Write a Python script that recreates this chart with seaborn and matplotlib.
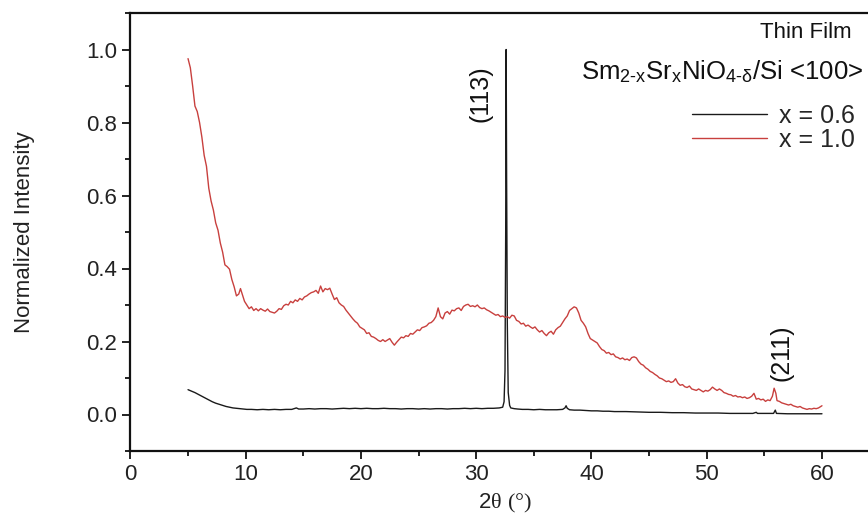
import numpy as np
import pandas as pd
import matplotlib
matplotlib.use("Agg")
import matplotlib.pyplot as plt
from matplotlib.ticker import MultipleLocator, FormatStrFormatter
import seaborn as sns

# ---- XRD scan, x = 1.0 film (2-theta in degrees, normalized intensity) ----
two_theta_x10 = [
    5.0, 5.2, 5.4, 5.6, 5.8, 6.0, 6.2, 6.4, 6.6, 6.8, 7.0, 7.2, 7.4, 7.6, 7.8,
    8.0, 8.2, 8.4, 8.6, 8.8, 9.0, 9.2, 9.4, 9.55, 9.7, 9.9, 10.1, 10.3, 10.5,
    10.7, 10.9, 11.1, 11.3, 11.5, 11.7, 11.9, 12.1, 12.3, 12.5, 12.7, 12.9,
    13.1, 13.3, 13.5, 13.7, 13.9, 14.1, 14.3, 14.5, 14.7, 14.9, 15.1, 15.3,
    15.5, 15.7, 15.9, 16.1, 16.3, 16.5, 16.7, 16.9, 17.1, 17.3, 17.5, 17.7,
    17.9, 18.1, 18.3, 18.5, 18.7, 18.9, 19.1, 19.3, 19.5, 19.7, 19.9, 20.1,
    20.3, 20.5, 20.7, 20.9, 21.1, 21.3, 21.5, 21.7, 21.9, 22.1, 22.3, 22.5,
    22.7, 22.9, 23.1, 23.3, 23.5, 23.7, 23.9, 24.1, 24.3, 24.5, 24.7, 24.9,
    25.1, 25.3, 25.5, 25.7, 25.9, 26.1, 26.3, 26.5, 26.7, 26.9, 27.1, 27.3,
    27.5, 27.7, 27.9, 28.1, 28.3, 28.5, 28.7, 28.9, 29.1, 29.3, 29.5, 29.7,
    29.9, 30.1, 30.3, 30.5, 30.7, 30.9, 31.1, 31.3, 31.5, 31.7, 31.9, 32.1,
    32.3, 32.5, 32.7, 32.9, 33.1, 33.3, 33.5, 33.7, 33.9, 34.1, 34.3, 34.5,
    34.7, 34.9, 35.1, 35.3, 35.5, 35.7, 35.9, 36.1, 36.3, 36.5, 36.7, 36.9,
    37.1, 37.3, 37.5, 37.7, 37.9, 38.1, 38.3, 38.5, 38.7, 38.9, 39.1, 39.3,
    39.5, 39.7, 39.9, 40.1, 40.3, 40.5, 40.7, 40.9, 41.1, 41.3, 41.5, 41.7,
    41.9, 42.1, 42.3, 42.5, 42.7, 42.9, 43.1, 43.3, 43.5, 43.7, 43.9, 44.1,
    44.3, 44.5, 44.7, 44.9, 45.1, 45.3, 45.5, 45.7, 45.9, 46.1, 46.3, 46.5,
    46.7, 46.9, 47.1, 47.3, 47.5, 47.7, 47.9, 48.1, 48.3, 48.5, 48.7, 48.9,
    49.1, 49.3, 49.5, 49.7, 49.9, 50.1, 50.3, 50.5, 50.7, 50.9, 51.1, 51.3,
    51.5, 51.7, 51.9, 52.1, 52.3, 52.5, 52.7, 52.9, 53.1, 53.3, 53.5, 53.7,
    53.9, 54.1, 54.3, 54.5, 54.7, 54.9, 55.1, 55.3, 55.5, 55.7, 55.85, 56.0,
    56.1, 56.3, 56.5, 56.7, 56.9, 57.1, 57.3, 57.5, 57.7, 57.9, 58.1, 58.3,
    58.5, 58.7, 58.9, 59.1, 59.3, 59.5, 59.7, 59.9, 60.0,
]
intensity_x10 = [
    0.975, 0.950, 0.900, 0.845, 0.830, 0.800, 0.760, 0.710, 0.680, 0.620,
    0.585, 0.560, 0.525, 0.505, 0.470, 0.445, 0.410, 0.405, 0.398, 0.370,
    0.350, 0.325, 0.330, 0.345, 0.330, 0.310, 0.300, 0.290, 0.295, 0.285,
    0.290, 0.284, 0.290, 0.286, 0.283, 0.289, 0.282, 0.280, 0.278, 0.283,
    0.290, 0.288, 0.298, 0.302, 0.300, 0.310, 0.306, 0.314, 0.310, 0.318,
    0.314, 0.322, 0.325, 0.330, 0.334, 0.336, 0.340, 0.332, 0.352, 0.336,
    0.345, 0.342, 0.346, 0.330, 0.315, 0.320, 0.306, 0.300, 0.296, 0.286,
    0.278, 0.270, 0.262, 0.255, 0.250, 0.240, 0.236, 0.232, 0.222, 0.224,
    0.214, 0.212, 0.208, 0.203, 0.200, 0.205, 0.200, 0.204, 0.208, 0.198,
    0.190, 0.198, 0.205, 0.212, 0.210, 0.216, 0.214, 0.222, 0.220, 0.226,
    0.232, 0.230, 0.238, 0.240, 0.243, 0.250, 0.252, 0.258, 0.268, 0.292,
    0.268, 0.262, 0.278, 0.282, 0.275, 0.286, 0.284, 0.290, 0.292, 0.285,
    0.296, 0.300, 0.302, 0.296, 0.298, 0.295, 0.300, 0.293, 0.290, 0.292,
    0.287, 0.284, 0.280, 0.276, 0.272, 0.274, 0.268, 0.270, 0.266, 0.268,
    0.264, 0.272, 0.270, 0.258, 0.255, 0.248, 0.250, 0.242, 0.245, 0.240,
    0.236, 0.240, 0.232, 0.226, 0.230, 0.222, 0.216, 0.224, 0.228, 0.220,
    0.232, 0.238, 0.242, 0.252, 0.262, 0.270, 0.285, 0.290, 0.295, 0.292,
    0.278, 0.258, 0.250, 0.240, 0.222, 0.208, 0.204, 0.200, 0.196, 0.186,
    0.178, 0.175, 0.168, 0.170, 0.164, 0.166, 0.158, 0.156, 0.152, 0.155,
    0.150, 0.152, 0.148, 0.156, 0.158, 0.155, 0.145, 0.138, 0.135, 0.128,
    0.124, 0.118, 0.115, 0.110, 0.106, 0.100, 0.098, 0.094, 0.090, 0.092,
    0.088, 0.090, 0.098, 0.086, 0.080, 0.082, 0.076, 0.074, 0.078, 0.070,
    0.068, 0.066, 0.070, 0.066, 0.062, 0.066, 0.064, 0.068, 0.075, 0.070,
    0.066, 0.070, 0.066, 0.060, 0.058, 0.055, 0.054, 0.050, 0.052, 0.048,
    0.049, 0.046, 0.048, 0.044, 0.046, 0.050, 0.058, 0.042, 0.044, 0.040,
    0.042, 0.036, 0.040, 0.038, 0.050, 0.072, 0.058, 0.038, 0.036, 0.032,
    0.030, 0.028, 0.026, 0.028, 0.024, 0.022, 0.020, 0.022, 0.018, 0.016,
    0.014, 0.016, 0.015, 0.017, 0.016, 0.018, 0.022, 0.024,
]

# ---- XRD scan, x = 0.6 film ----
two_theta_x06 = [
    5.0, 5.3, 5.6, 5.9, 6.2, 6.5, 6.8, 7.1, 7.4, 7.7, 8.0, 8.3, 8.6, 8.9, 9.2,
    9.5, 9.8, 10.1, 10.5, 11.0, 11.5, 12.0, 12.5, 13.0, 13.5, 14.0, 14.4,
    14.6, 15.0, 15.5, 16.0, 16.5, 17.0, 17.5, 18.0, 18.5, 19.0, 19.5, 20.0,
    20.5, 21.0, 21.5, 22.0, 22.5, 23.0, 23.5, 24.0, 24.5, 25.0, 25.5, 26.0,
    26.5, 27.0, 27.5, 28.0, 28.5, 29.0, 29.5, 30.0, 30.5, 31.0, 31.5, 32.0,
    32.3, 32.42, 32.5, 32.56, 32.6, 32.64, 32.7, 32.78, 32.9, 33.0, 33.3,
    33.6, 34.0, 34.5, 35.0, 35.5, 36.0, 36.5, 37.0, 37.5, 37.7, 37.8, 37.9,
    38.1, 38.5, 39.0, 39.5, 40.0, 40.5, 41.0, 41.5, 42.0, 43.0, 44.0, 45.0,
    46.0, 47.0, 48.0, 49.0, 50.0, 51.0, 52.0, 53.0, 54.0, 54.3, 54.4, 55.0,
    55.8, 55.95, 56.05, 57.0, 58.0, 59.0, 60.0,
]
intensity_x06 = [
    0.068, 0.064, 0.060, 0.055, 0.050, 0.045, 0.040, 0.035, 0.031, 0.028,
    0.025, 0.022, 0.020, 0.018, 0.017, 0.016, 0.015, 0.014, 0.014, 0.013,
    0.014, 0.013, 0.014, 0.013, 0.014, 0.014, 0.018, 0.015, 0.015, 0.016,
    0.015, 0.016, 0.016, 0.015, 0.016, 0.017, 0.016, 0.017, 0.016, 0.017,
    0.016, 0.016, 0.017, 0.016, 0.016, 0.015, 0.016, 0.016, 0.015, 0.016,
    0.015, 0.016, 0.016, 0.015, 0.016, 0.016, 0.017, 0.016, 0.017, 0.016,
    0.017, 0.017, 0.018, 0.020, 0.035, 0.120, 0.500, 1.000, 0.650, 0.250,
    0.060, 0.025, 0.018, 0.016, 0.015, 0.014, 0.014, 0.013, 0.014, 0.013,
    0.013, 0.013, 0.014, 0.018, 0.024, 0.017, 0.013, 0.012, 0.012, 0.011,
    0.010, 0.010, 0.009, 0.009, 0.008, 0.008, 0.007, 0.006, 0.006, 0.005,
    0.005, 0.004, 0.004, 0.004, 0.003, 0.003, 0.003, 0.006, 0.003, 0.003,
    0.003, 0.012, 0.003, 0.002, 0.002, 0.002, 0.002,
]

series_labels = ["x = 0.6", "x = 1.0"]
series_colors = ["#1a1a1a", "#c8403e"]

df = pd.concat([
    pd.DataFrame({"two_theta": two_theta_x06, "intensity": intensity_x06,
                  "sample": series_labels[0]}),
    pd.DataFrame({"two_theta": two_theta_x10, "intensity": intensity_x10,
                  "sample": series_labels[1]}),
], ignore_index=True)

sns.set_style("ticks")
plt.rcParams["font.family"] = ["Liberation Sans", "DejaVu Sans"]
plt.rcParams["mathtext.fontset"] = "custom"
plt.rcParams["mathtext.rm"] = "Liberation Serif"
plt.rcParams["mathtext.it"] = "Liberation Serif:italic"

fig = plt.figure(figsize=(8.68, 5.18), dpi=100)
ax = fig.add_axes([130.4 / 868, 67 / 518, 749.2 / 868, 438 / 518])

sns.lineplot(data=df, x="two_theta", y="intensity", hue="sample",
             palette=dict(zip(series_labels, series_colors)),
             hue_order=series_labels, sort=False, estimator=None,
             linewidth=1.0, ax=ax)

ax.set_xlim(0, 65)
ax.set_ylim(-0.1, 1.1)
ax.xaxis.set_major_locator(MultipleLocator(10))
ax.xaxis.set_minor_locator(MultipleLocator(5))
ax.yaxis.set_major_locator(MultipleLocator(0.2))
ax.yaxis.set_minor_locator(MultipleLocator(0.1))
ax.yaxis.set_major_formatter(FormatStrFormatter("%.1f"))
ax.xaxis.set_major_formatter(FormatStrFormatter("%d"))

ax.tick_params(which="major", direction="out", length=5.5, width=1.3,
               labelsize=16, color="#111111", labelcolor="#222222", pad=4)
ax.tick_params(which="minor", direction="out", length=3.5, width=1.3,
               color="#111111")
ax.tick_params(axis="both", which="both", top=False, right=False)
for side in ["left", "bottom", "top"]:
    ax.spines[side].set_linewidth(1.6)
    ax.spines[side].set_color("#111111")
ax.spines["right"].set_visible(False)

ax.set_ylabel("Normalized Intensity", fontsize=16, color="#222222")
ax.yaxis.set_label_coords(-0.128, 0.5)
ax.set_xlabel(r"2$\mathrm{\theta}$ $\mathrm{(°)}$", fontsize=16,
              color="#222222", labelpad=5)

# peak indices
ax.text(30.4, 0.878, "(113)", rotation=90, ha="center", va="center",
        fontsize=18, color="#111111")
ax.text(56.5, 0.168, "(211)", rotation=90, ha="center", va="center",
        fontsize=18, color="#111111")

fig.text(852 / 868, 1 - 33 / 518, "Thin Film", ha="right", va="center",
         fontsize=16, color="#111111")
fig.text(863 / 868, 1 - 72 / 518,
         "Sm$_{\\mathregular{2\u2010x}}$Sr$_{\\mathregular{x}}$"
         "NiO$_{\\mathregular{4\u2010δ}}$/Si <100>",
         ha="right", va="center", fontsize=18.5, color="#111111")

handles, labels = ax.get_legend_handles_labels()
ax.legend(handles, labels, loc="upper right",
          bbox_to_anchor=(855 / 868, 1 - 104 / 518),
          bbox_transform=fig.transFigure, frameon=False, fontsize=18,
          handlelength=3.0, handletextpad=0.5, labelspacing=0.0,
          borderpad=0, borderaxespad=0)

fig.savefig("out.png", dpi=100)
